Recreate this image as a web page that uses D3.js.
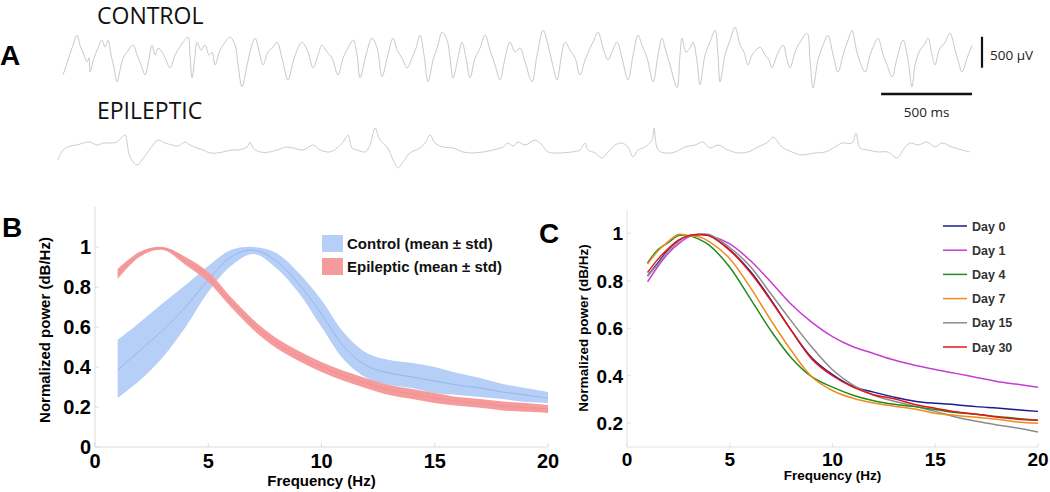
<!DOCTYPE html>
<html><head><meta charset="utf-8">
<script src="https://cdn.jsdelivr.net/npm/d3@7/dist/d3.min.js"></script>
<style>body{margin:0;background:#fff}svg{display:block}</style>
</head><body>
<svg id="c" width="1050" height="492"></svg>
<script>
// ---------- Panel A: example traces (time in ms, amplitude in µV) ----------
const controlTrace = [[6,-240],[33,0],[55,192],[83,400],[99,240],[121,80],[138,-32],[149,32],[154,-192],[176,32],[198,192],[220,320],[237,208],[253,320],[270,80],[286,-128],[303,-352],[325,-80],[336,32],[358,128],[391,240],[413,80],[435,-80],[457,-240],[479,32],[495,240],[512,80],[528,192],[550,128],[572,0],[594,-128],[622,80],[644,192],[666,288],[693,368],[704,80],[715,-288],[732,80],[743,288],[765,160],[787,240],[809,80],[825,128],[842,-80],[869,160],[897,288],[924,368],[952,240],[968,-80],[990,-432],[1018,-80],[1040,192],[1062,352],[1089,80],[1106,-80],[1133,128],[1161,208],[1183,288],[1210,32],[1243,-320],[1271,-32],[1298,192],[1320,288],[1353,128],[1381,-128],[1408,80],[1430,240],[1458,128],[1485,32],[1518,-240],[1546,32],[1573,192],[1601,320],[1623,80],[1639,-288],[1672,80],[1705,352],[1733,192],[1760,-272],[1788,32],[1821,352],[1843,160],[1870,32],[1898,-128],[1925,32],[1947,192],[1969,400],[1991,80],[2013,-352],[2041,0],[2068,240],[2090,448],[2118,320],[2134,32],[2151,-288],[2178,32],[2200,288],[2222,32],[2244,-288],[2272,32],[2299,192],[2327,400],[2354,160],[2382,-80],[2409,-320],[2437,32],[2464,288],[2492,128],[2519,192],[2547,-32],[2585,-352],[2613,80],[2646,480],[2673,240],[2695,-32],[2723,-320],[2745,32],[2767,288],[2794,160],[2822,32],[2849,-240],[2877,0],[2904,192],[2926,320],[2948,448],[2976,192],[3003,0],[3025,128],[3053,288],[3080,32],[3113,-320],[3141,80],[3168,400],[3190,240],[3218,32],[3251,-352],[3278,80],[3300,352],[3317,192],[3344,-80],[3383,-448],[3399,80],[3410,352],[3432,128],[3454,192],[3471,288],[3493,-32],[3509,-400],[3537,80],[3564,288],[3592,480],[3608,80],[3619,-352],[3647,80],[3674,320],[3702,528],[3729,240],[3751,128],[3773,-80],[3795,80],[3817,160],[3839,208],[3867,80],[3889,0],[3905,-128],[3933,80],[3966,240],[3988,0],[4004,-128],[4032,128],[4059,288],[4098,432],[4114,0],[4131,-448],[4158,0],[4186,240],[4213,400],[4241,80],[4268,-192],[4296,80],[4323,320],[4345,480],[4367,192],[4389,-32],[4417,-192],[4444,80],[4466,240],[4488,352],[4516,80],[4538,-80],[4565,-272],[4593,32],[4626,320],[4653,0],[4675,-432],[4692,-80],[4719,160],[4741,240],[4763,352],[4785,80],[4802,-80],[4824,160],[4857,288],[4884,432],[4912,160],[4928,0],[4950,-192],[4978,32],[5005,240]];
const epilepticTrace = [[0,-192],[28,-32],[66,32],[105,48],[138,80],[176,96],[215,48],[248,80],[286,80],[325,96],[352,176],[369,208],[396,-144],[435,-272],[462,-192],[490,-80],[523,48],[550,128],[589,80],[627,48],[660,32],[699,96],[726,48],[765,0],[798,-32],[836,-80],[875,-80],[908,-64],[957,-32],[990,-32],[1040,16],[1056,96],[1073,0],[1111,-64],[1166,-64],[1221,-16],[1260,16],[1293,0],[1348,-32],[1403,48],[1441,-32],[1496,-64],[1535,0],[1568,96],[1595,208],[1617,0],[1645,-32],[1689,-64],[1716,48],[1744,320],[1771,128],[1810,16],[1843,-192],[1870,-320],[1898,-224],[1936,-80],[1991,0],[2019,80],[2046,208],[2074,80],[2118,16],[2173,0],[2228,-64],[2283,-80],[2338,-64],[2393,-32],[2448,16],[2475,80],[2503,32],[2530,96],[2569,48],[2624,128],[2662,48],[2695,-64],[2750,-80],[2827,-64],[2871,-32],[2899,80],[2915,-32],[2954,-80],[2992,-160],[3025,-64],[3064,48],[3102,80],[3135,16],[3163,-144],[3190,-32],[3229,16],[3267,128],[3278,320],[3300,-32],[3339,-80],[3394,-64],[3449,16],[3504,48],[3548,96],[3586,0],[3630,48],[3685,-32],[3740,-80],[3795,-64],[3850,16],[3905,96],[3933,176],[3982,16],[4037,-64],[4092,-112],[4164,-80],[4219,-64],[4274,16],[4312,80],[4367,80],[4389,240],[4411,0],[4455,-32],[4510,-64],[4565,-64],[4615,-160],[4648,-32],[4686,80],[4730,48],[4780,96],[4824,16],[4862,80],[4917,16],[4972,-32],[5016,-64]];
const traceTitles = ["CONTROL", "EPILEPTIC"];
const scaleBarMs = 500, scaleBarUV = 500;

// ---------- Panel B: mean ± std spectra ----------
const freqB = [1,2,3,4,5,6,7,8,9,10,11,12,13,14,15,16,17,18,19,20];
const controlMean  = [0.385,0.485,0.585,0.70,0.835,0.95,0.985,0.93,0.815,0.665,0.50,0.405,0.37,0.35,0.33,0.31,0.295,0.275,0.26,0.245];
const controlUpper = [0.535,0.625,0.72,0.81,0.905,0.985,1.0,0.97,0.87,0.735,0.57,0.47,0.435,0.42,0.40,0.37,0.345,0.315,0.295,0.275];
const controlLower = [0.245,0.335,0.45,0.60,0.775,0.905,0.965,0.895,0.77,0.60,0.435,0.345,0.31,0.295,0.27,0.26,0.25,0.24,0.225,0.22];
const epiMean  = [0.865,0.965,0.995,0.93,0.85,0.725,0.61,0.52,0.455,0.40,0.355,0.318,0.285,0.265,0.245,0.228,0.218,0.205,0.198,0.19];
const epiUpper = [0.89,0.977,1.0,0.95,0.875,0.75,0.635,0.545,0.48,0.425,0.38,0.343,0.31,0.29,0.27,0.25,0.24,0.227,0.22,0.21];
const epiLower = [0.84,0.953,0.985,0.91,0.825,0.70,0.585,0.495,0.43,0.375,0.33,0.293,0.26,0.24,0.22,0.206,0.196,0.183,0.176,0.17];
const legendB = ["Control (mean \u00b1 std)", "Epileptic (mean \u00b1 std)"];
const yTicksB = [0,0.2,0.4,0.6,0.8,1];
const xTicks = [0,5,10,15,20];

// ---------- Panel C: per-day spectra ----------
const freqC = [1,1.5,2,2.5,3,3.5,4,5,6,7,8,9,10,11,12,13,14,15,16,17,18,19,20];
const dayLabels = ["Day 0","Day 1","Day 4","Day 7","Day 15","Day 30"];
const day0  = [0.82,0.875,0.93,0.97,0.99,0.995,0.99,0.93,0.84,0.72,0.59,0.475,0.405,0.355,0.331,0.31,0.293,0.284,0.278,0.27,0.264,0.257,0.25];
const day1  = [0.795,0.86,0.915,0.955,0.985,0.995,0.99,0.955,0.885,0.795,0.70,0.625,0.565,0.522,0.494,0.466,0.444,0.426,0.41,0.393,0.376,0.364,0.352];
const day4  = [0.875,0.93,0.96,0.99,0.99,0.975,0.95,0.857,0.725,0.59,0.475,0.395,0.352,0.318,0.295,0.28,0.27,0.258,0.245,0.238,0.228,0.22,0.213];
const day7  = [0.87,0.925,0.965,0.995,0.99,0.985,0.965,0.893,0.772,0.634,0.505,0.395,0.338,0.305,0.285,0.272,0.26,0.242,0.233,0.225,0.217,0.205,0.20];
const day15 = [0.82,0.87,0.925,0.965,0.99,0.995,0.995,0.94,0.86,0.745,0.63,0.52,0.425,0.36,0.318,0.293,0.272,0.25,0.226,0.208,0.193,0.18,0.163];
const day30 = [0.835,0.89,0.935,0.97,0.99,0.995,0.99,0.928,0.835,0.717,0.59,0.47,0.40,0.352,0.32,0.303,0.279,0.263,0.248,0.238,0.226,0.217,0.213];
const dayColors = ["#1c1c8a","#c83cd2","#1e8c1e","#f08c1c","#8c8c8c","#e61414"];
const yTicksC = [0.2,0.4,0.6,0.8,1];

const svg = d3.select("#c");
const FB = "'Liberation Sans', Arial, Helvetica, sans-serif";
const FA = "'Open Sans', 'Noto Sans', sans-serif";

// ===== Panel A =====
svg.append("text").attr("x",0).attr("y",65).text("A")
  .attr("font-family",FB).attr("font-weight","bold").attr("font-size",28);
const xT = d3.scaleLinear().domain([0,5005]).range([62,972]);
const xTe = d3.scaleLinear().domain([0,5005]).range([58,968]);
const yCtrl = d3.scaleLinear().domain([-500,500]).range([91,29]);
const yEpi = d3.scaleLinear().domain([-500,500]).range([179,117]);
svg.append("text").attr("x",97).attr("y",24).text(traceTitles[0])
  .attr("font-family",FA).attr("font-size",23).attr("fill","#111");
svg.append("text").attr("x",97).attr("y",119).text(traceTitles[1])
  .attr("font-family",FA).attr("font-size",23).attr("fill","#111");
svg.append("path").datum(controlTrace)
  .attr("d", d3.line().curve(d3.curveCatmullRom).x(d=>xT(d[0])).y(d=>yCtrl(d[1])))
  .attr("fill","none").attr("stroke","#c2c2c2").attr("stroke-width",0.9);
svg.append("path").datum(epilepticTrace)
  .attr("d", d3.line().curve(d3.curveCatmullRom).x(d=>xTe(d[0])).y(d=>yEpi(d[1])))
  .attr("fill","none").attr("stroke","#c6c6c6").attr("stroke-width",0.9);
// scale bars
svg.append("line").attr("x1",982).attr("x2",982)
  .attr("y1",yCtrl(-125)).attr("y2",yCtrl(-125+scaleBarUV))
  .attr("stroke","#111").attr("stroke-width",2.2);
svg.append("text").attr("x",990).attr("y",60).text(scaleBarUV+" \u00b5V")
  .attr("font-family",FA).attr("font-size",13.5).attr("fill","#222");
svg.append("line").attr("x1",xT(5005-scaleBarMs)).attr("x2",xT(5005)).attr("y1",94).attr("y2",94)
  .attr("stroke","#111").attr("stroke-width",2.4);
svg.append("text").attr("x",(xT(5005-scaleBarMs)+xT(5005))/2).attr("y",117).attr("text-anchor","middle")
  .text(scaleBarMs+" ms").attr("font-family",FA).attr("font-size",13.5).attr("fill","#222");

// ===== Panel B =====
svg.append("text").attr("x",2).attr("y",237).text("B")
  .attr("font-family",FB).attr("font-weight","bold").attr("font-size",28);
const xB = d3.scaleLinear().domain([0,20]).range([95,548]);
const yB = d3.scaleLinear().domain([0,1.2]).range([447,207]);
const gB = svg.append("g");
gB.append("line").attr("x1",xB(0)).attr("x2",xB(20)).attr("y1",yB(0)).attr("y2",yB(0)).attr("stroke","#dcdcdc");
gB.append("line").attr("x1",xB(0)).attr("x2",xB(0)).attr("y1",yB(0)).attr("y2",yB(1.2)).attr("stroke","#dcdcdc");
xTicks.forEach(t=>{
  gB.append("line").attr("x1",xB(t)).attr("x2",xB(t)).attr("y1",yB(0)).attr("y2",yB(0)-4).attr("stroke","#dcdcdc");
  gB.append("text").attr("x",xB(t)).attr("y",468).attr("text-anchor","middle").text(t)
    .attr("font-family",FB).attr("font-weight","bold").attr("font-size",20);
});
yTicksB.forEach(t=>{
  gB.append("line").attr("x1",xB(0)).attr("x2",xB(0)+4).attr("y1",yB(t)).attr("y2",yB(t)).attr("stroke","#dcdcdc");
  gB.append("text").attr("x",91).attr("y",yB(t)+7).attr("text-anchor","end").text(t)
    .attr("font-family",FB).attr("font-weight","bold").attr("font-size",20);
});
const areaB = (lo,hi)=>d3.area().curve(d3.curveCatmullRom)
  .x((d,i)=>xB(freqB[i])).y0((d,i)=>yB(lo[i])).y1((d,i)=>yB(hi[i]));
const lineB = d3.line().curve(d3.curveCatmullRom).x((d,i)=>xB(freqB[i])).y(d=>yB(d));
gB.append("path").datum(freqB).attr("d",areaB(controlLower,controlUpper)).attr("fill","#b6cff6");
gB.append("path").datum(controlMean).attr("d",lineB).attr("fill","none").attr("stroke","#98b6ec").attr("stroke-width",1);
gB.append("path").datum(freqB).attr("d",areaB(epiLower,epiUpper)).attr("fill","#f59b9c");
gB.append("path").datum(epiMean).attr("d",lineB).attr("fill","none").attr("stroke","#f28c8e").attr("stroke-width",0.8);
// legend
const legColors = ["#b6cff6","#f59b9c"];
legendB.forEach((s,i)=>{
  gB.append("rect").attr("x",322).attr("y",235+i*23).attr("width",21).attr("height",17).attr("fill",legColors[i]);
  gB.append("text").attr("x",347).attr("y",249+i*23).text(s)
    .attr("font-family",FB).attr("font-weight","bold").attr("font-size",15).attr("fill","#111");
});
gB.append("text").attr("transform","translate(50,330) rotate(-90)").attr("text-anchor","middle")
  .text("Normalized power (dB/Hz)").attr("font-family",FB).attr("font-weight","bold").attr("font-size",15);
gB.append("text").attr("x",xB(10)).attr("y",486).attr("text-anchor","middle")
  .text("Frequency (Hz)").attr("font-family",FB).attr("font-weight","bold").attr("font-size",15);

// ===== Panel C =====
svg.append("text").attr("x",539).attr("y",243).text("C")
  .attr("font-family",FB).attr("font-weight","bold").attr("font-size",28);
const xC = d3.scaleLinear().domain([0,20]).range([627,1038]);
const yC = d3.scaleLinear().domain([0.1,1.1]).range([447,209.5]);
const gC = svg.append("g");
gC.append("line").attr("x1",xC(0)).attr("x2",xC(20)).attr("y1",yC(0.1)).attr("y2",yC(0.1)).attr("stroke","#e2e2e2");
gC.append("line").attr("x1",xC(0)).attr("x2",xC(0)).attr("y1",yC(0.1)).attr("y2",yC(1.1)).attr("stroke","#e2e2e2");
xTicks.forEach(t=>{
  gC.append("line").attr("x1",xC(t)).attr("x2",xC(t)).attr("y1",yC(0.1)).attr("y2",yC(0.1)-4).attr("stroke","#e2e2e2");
  gC.append("text").attr("x",xC(t)).attr("y",466).attr("text-anchor","middle").text(t)
    .attr("font-family",FB).attr("font-weight","bold").attr("font-size",19);
});
yTicksC.forEach(t=>{
  gC.append("line").attr("x1",xC(0)).attr("x2",xC(0)+4).attr("y1",yC(t)).attr("y2",yC(t)).attr("stroke","#e2e2e2");
  gC.append("text").attr("x",623).attr("y",yC(t)+7).attr("text-anchor","end").text(t)
    .attr("font-family",FB).attr("font-weight","bold").attr("font-size",19);
});
const lineC = d3.line().curve(d3.curveCatmullRom).x((d,i)=>xC(freqC[i])).y(d=>yC(d));
const daySeries = [day0, day1, day4, day7, day15, day30];
const drawOrder = [1,0,4,2,3,5];
drawOrder.forEach(k=>{
  gC.append("path").datum(daySeries[k]).attr("d",lineC).attr("fill","none")
    .attr("stroke",dayColors[k]).attr("stroke-width",1.5);
});
dayLabels.forEach((s,i)=>{
  const y = 226 + i*24.2;
  gC.append("line").attr("x1",943).attr("x2",967).attr("y1",y).attr("y2",y).attr("stroke",dayColors[i]).attr("stroke-width",1.5);
  gC.append("text").attr("x",972).attr("y",y+4.5).text(s)
    .attr("font-family",FB).attr("font-weight","bold").attr("font-size",12.5).attr("fill","#333");
});
gC.append("text").attr("transform","translate(588,328) rotate(-90)").attr("text-anchor","middle")
  .text("Normalized power (dB/Hz)").attr("font-family",FB).attr("font-weight","bold").attr("font-size",13.5);
gC.append("text").attr("x",xC(10)).attr("y",480).attr("text-anchor","middle")
  .text("Frequency (Hz)").attr("font-family",FB).attr("font-weight","bold").attr("font-size",13.5);
</script>
</body></html>
